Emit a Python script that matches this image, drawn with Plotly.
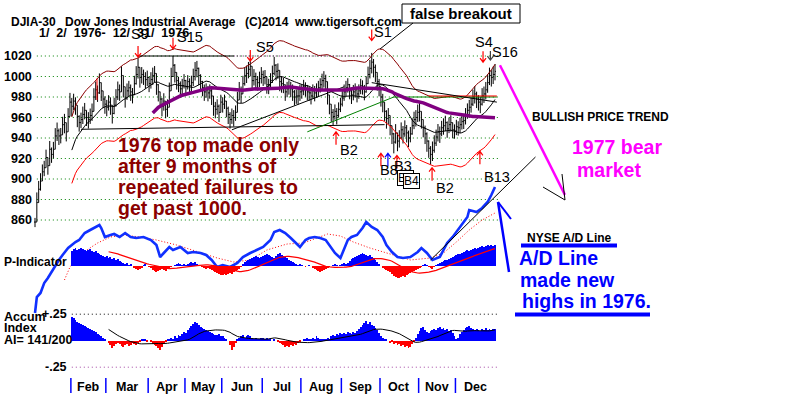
import plotly.graph_objects as go
import pandas as pd

W, H = 800, 397
FONT = "Liberation Sans, Arial, sans-serif"

# ---------------- data ----------------
month_names = ["Jan", "Feb", "Mar", "Apr", "May", "Jun", "Jul", "Aug", "Sep", "Oct", "Nov", "Dec"]
month_days = [20, 19, 23, 20, 20, 22, 21, 22, 21, 21, 20, 22]

close_by_month = [
    [858, 877, 890, 898, 907, 911, 921, 913, 929, 924, 929, 942, 947, 942, 943, 953, 955, 946, 961, 975],
    [971, 976, 972, 961, 955, 958, 963, 967, 960, 958, 962, 966, 980, 987, 984, 994, 986, 978, 973],
    [970, 975, 972, 964, 972, 980, 987, 985, 1001, 990, 979, 986, 989, 985, 982, 993, 1002, 1009, 999, 1002, 1000, 997, 999],
    [993, 997, 1001, 1003, 992, 985, 978, 971, 976, 968, 970, 986, 1000, 1011, 1004, 996, 993, 988, 991, 996],
    [990, 995, 991, 994, 1000, 1006, 1008, 1001, 995, 989, 985, 987, 984, 986, 981, 971, 968, 971, 965, 975],
    [973, 976, 969, 963, 958, 962, 960, 965, 977, 987, 983, 993, 1001, 1003, 1007, 1010, 996, 1000, 997, 994, 998, 1002],
    [999, 1000, 992, 991, 996, 1003, 1011, 1005, 1006, 995, 993, 992, 985, 988, 990, 988, 985, 980, 981, 981, 985],
    [986, 990, 988, 985, 984, 981, 986, 984, 987, 989, 992, 996, 998, 995, 982, 973, 965, 961, 966, 962, 968, 973],
    [979, 985, 989, 992, 986, 982, 985, 987, 983, 986, 991, 990, 985, 993, 1002, 1008, 1014, 1009, 1004, 995, 990],
    [980, 975, 966, 959, 962, 952, 944, 936, 945, 937, 940, 948, 944, 950, 945, 940, 944, 952, 958, 960, 965],
    [966, 958, 950, 944, 937, 930, 924, 928, 935, 941, 946, 944, 950, 952, 955, 949, 953, 955, 948, 947],
    [951, 950, 953, 956, 957, 962, 967, 970, 973, 980, 983, 978, 975, 973, 981, 983, 987, 994, 1001, 999, 1002, 1005],
]

range_by_month = [
    [9, 22, 18, 17, 16, 15, 17, 16, 18, 15, 16, 17, 18, 16, 15, 17, 19, 17, 18, 20],
    [18, 16, 17, 19, 16, 15, 17, 16, 15, 16, 15, 17, 19, 18, 16, 20, 18, 16, 17],
    [16, 15, 17, 18, 16, 17, 18, 16, 20, 19, 17, 16, 15, 16, 15, 17, 18, 20, 18, 16, 15, 16, 15],
    [15, 16, 17, 16, 18, 17, 16, 18, 17, 16, 17, 18, 19, 20, 18, 16, 15, 16, 15, 14],
    [15, 14, 16, 15, 17, 18, 16, 17, 16, 15, 16, 14, 15, 14, 16, 17, 16, 15, 17, 16],
    [15, 14, 16, 17, 16, 15, 16, 15, 18, 17, 16, 17, 18, 17, 16, 18, 17, 16, 15, 14, 15, 16],
    [15, 14, 16, 15, 16, 17, 18, 16, 15, 17, 16, 15, 16, 15, 14, 15, 16, 15, 14, 15, 16],
    [14, 15, 14, 15, 14, 15, 14, 15, 14, 15, 14, 15, 16, 15, 17, 18, 17, 16, 15, 16, 15, 14],
    [15, 16, 15, 14, 15, 16, 15, 14, 15, 14, 15, 14, 15, 16, 17, 18, 20, 18, 17, 16, 17],
    [17, 18, 17, 18, 16, 17, 18, 20, 19, 18, 17, 16, 17, 16, 17, 16, 15, 16, 17, 16, 17],
    [18, 16, 17, 18, 19, 17, 18, 19, 17, 16, 17, 16, 15, 16, 15, 16, 15, 16, 15, 14],
    [15, 14, 15, 14, 15, 16, 15, 16, 15, 16, 17, 16, 15, 16, 17, 16, 17, 18, 17, 16, 17, 16],
]

pind_by_month = [
    [None] * 20,
    [15, 17, 18, 16, 17, 18, 17, 16, 15, 16, 17, 15, 14, 15, 13, 12, 11, 10, 9],
    [10, 8, 9, 7, 8, 6, 7, 5, 4, 3, 2, 3, 1, 2, 0, -2, -3, -4, -3, -2, 1, 2, 0],
    [-1, -2, -4, -5, -6, -5, -4, -3, -4, -5, -3, -2, -1, 0, 1, 2, 3, 2, 1, 2],
    [1, 2, 3, 4, 3, 4, 2, 1, 0, -1, -2, -3, -2, -3, -4, -5, -6, -7, -8, -9],
    [-9, -8, -9, -8, -7, -8, -6, -5, -4, -3, -1, 2, 4, 5, 6, 7, 8, 9, 10, 9, 8, 9],
    [10, 11, 12, 11, 10, 9, 8, 10, 12, 13, 11, 10, 9, 8, 6, 5, 4, 3, 2, 1, 2],
    [1, 0, -1, 0, 1, 0, -2, -3, -4, -5, -6, -5, -4, -3, -2, -1, 0, 1, 2, 1, 0, 1],
    [2, 3, 2, 3, 5, 7, 8, 9, 10, 11, 12, 13, 12, 11, 10, 11, 9, 8, 6, 4, 2],
    [0, -2, -3, -4, -5, -6, -8, -10, -11, -12, -12, -11, -10, -11, -9, -8, -7, -6, -5, -4, -3],
    [-2, -1, 1, 2, 1, -1, -2, -3, -1, 1, 2, 3, 4, 5, 6, 6, 7, 8, 9, 10],
    [11, 12, 12, 13, 14, 15, 16, 15, 16, 17, 18, 17, 18, 19, 20, 19, 20, 21, 20, 21, 20, 21],
]

accum_by_month = [
    [None] * 20,
    [0.22, 0.21, 0.20, 0.18, 0.17, 0.16, 0.15, 0.14, 0.13, 0.12, 0.11, 0.10, 0.09, 0.08, 0.06, 0.05, 0.04, 0.03, 0.01],
    [0.0, -0.02, -0.04, -0.07, -0.05, -0.03, -0.02, -0.03, -0.05, -0.06, -0.04, -0.03, -0.05, -0.04, -0.02, -0.03, -0.04, -0.02, -0.01, 0.01, 0.02, 0.01, -0.01],
    [0.0, -0.01, -0.03, -0.04, -0.05, -0.07, -0.09, -0.06, -0.03, -0.01, 0.01, 0.02, 0.03, 0.02, 0.04, 0.03, 0.05, 0.04, 0.06, 0.08],
    [0.07, 0.10, 0.12, 0.14, 0.16, 0.18, 0.17, 0.15, 0.13, 0.12, 0.11, 0.10, 0.09, 0.08, 0.07, 0.06, 0.05, 0.05, 0.06, 0.04],
    [0.04, 0.03, 0.02, 0.0, -0.04, -0.09, -0.06, -0.02, 0.01, 0.03, 0.04, 0.05, 0.03, 0.04, 0.05, 0.04, 0.03, 0.02, 0.03, 0.01, 0.02, 0.03],
    [0.03, 0.02, 0.03, 0.02, 0.01, 0.0, 0.01, 0.0, -0.01, -0.02, -0.03, -0.04, -0.06, -0.05, -0.06, -0.04, -0.05, -0.03, -0.04, -0.02, -0.01],
    [0.0, 0.01, 0.02, 0.03, 0.01, 0.02, 0.03, 0.02, 0.04, 0.03, 0.02, 0.01, 0.02, 0.01, 0.03, 0.02, 0.04, 0.05, 0.04, 0.06, 0.05, 0.07],
    [0.06, 0.07, 0.06, 0.08, 0.07, 0.06, 0.08, 0.07, 0.09, 0.11, 0.13, 0.15, 0.17, 0.19, 0.16, 0.18, 0.15, 0.14, 0.12, 0.10, 0.07],
    [0.04, 0.03, 0.02, 0.01, 0.0, -0.02, -0.01, -0.03, -0.02, -0.04, -0.03, -0.05, -0.04, -0.06, -0.05, -0.07, -0.06, -0.03, -0.01, 0.03, 0.06],
    [0.09, 0.12, 0.13, 0.10, 0.08, 0.07, 0.09, 0.10, 0.11, 0.10, 0.12, 0.13, 0.11, 0.12, 0.10, 0.11, 0.09, 0.10, 0.07, 0.04],
    [0.01, 0.03, 0.06, 0.08, 0.10, 0.12, 0.13, 0.14, 0.12, 0.11, 0.10, 0.11, 0.10, 0.09, 0.11, 0.10, 0.12, 0.10, 0.11, 0.10, 0.11, 0.11],
]

# NYSE advance/decline line (arbitrary units) at trading-day numbers
ad_day = [0, 1, 3, 5, 7, 9, 11, 13, 15, 18, 20, 22, 24, 27, 30, 33, 35, 36, 38, 41, 43, 46, 49, 52, 55, 59, 63, 66, 68, 70,
          73, 75, 79, 83, 86, 90, 93, 96, 99, 102, 106, 110, 113, 117, 121, 124, 128, 130, 133, 136, 139, 141, 144, 147, 149, 152, 155, 158, 160, 163,
          166, 167, 170, 172, 175, 178, 180, 183, 186, 189, 191, 194, 197, 200, 204, 208, 210, 213, 216, 220, 224, 227, 231, 235, 236, 240, 243, 246, 248, 250]
ad_value = [7, 23, 27, 37, 42, 48, 55, 60, 65, 72, 75, 78, 80, 87, 90, 93, 95, 92, 83, 85, 86, 83, 87, 83, 82, 83, 80, 75, 63, 67,
            73, 70, 73, 67, 68, 67, 65, 60, 53, 55, 53, 57, 63, 67, 70, 73, 80, 88, 90, 87, 82, 78, 73, 80, 82, 83, 82, 80, 75, 67,
            62, 67, 80, 83, 85, 92, 98, 93, 90, 83, 75, 68, 63, 62, 63, 68, 72, 67, 60, 63, 77, 83, 93, 103, 110, 108, 112, 118, 125, 133]
adma_day = [16, 19, 24, 34, 41, 48, 57, 66, 77, 90, 99, 108, 117, 126, 137, 146, 155, 159, 166, 173, 182, 191, 204, 215, 222, 229, 236, 243, 250]
adma_value = [40, 53, 65, 77, 83, 85, 83, 80, 75, 67, 62, 58, 60, 70, 76, 77, 83, 86, 84, 78, 72, 67, 60, 62, 67, 78, 90, 100, 107]

price_ticks = [860, 880, 900, 920, 940, 960, 980, 1000, 1020]

# signals: (label, trading day, price at arrow tip, colour)
sell_signals = [("S9", 56, 1019, "#ff0000"), ("S15", 75, 1027, "#ff0000"), ("S5", 117, 1015, "#ff0000"),
                ("S1", 183, 1035, "#ff0000"), ("S4", 243.5, 1014, "#ff0000"), ("S16", 247.5, 1016, "#404040")]
buy_signals = [(163.6, 946, "#ff0000"), (188, 925, "#ff0000"), (191.8, 925, "#0000ff"), (196.7, 923, "#ff0000"),
               (215.8, 911, "#ff0000"), (241.8, 927, "#ff0000")]

# drawn trend lines on the price panel: (days, prices, colour, dash)
trend_lines = [
    ([56, 108], [1020, 1020], "#000000", "solid"),
    ([108, 182], [1020, 1020], "#600060", "1px,2px"),
    ([25, 190], [948.5, 953], "#000000", "solid"),
    ([107, 168], [948, 990], "#000000", "solid"),
    ([148, 195, 251], [946, 980, 980], "#008000", "solid"),
    ([214, 251], [981, 981], "#ff0000", "solid"),
    ([183, 251], [994, 975], "#000000", "solid"),
    ([33.7, 33.7], [998, 977], "#ff0000", "solid"),
]

# ---------------- derived series ----------------
close = sum(close_by_month, [])
rng = sum(range_by_month, [])
pind = sum(pind_by_month, [])
accum = sum(accum_by_month, [])
N = len(close)
days = list(range(N))

df = pd.DataFrame({"close": close, "rng": rng[:N]})
df["open"] = df["close"].shift(1).fillna(df["close"])
df["high"] = pd.concat([df["close"] + 0.45 * df["rng"], df["open"]], axis=1).max(axis=1)
df["low"] = pd.concat([df["close"] - 0.55 * df["rng"], df["open"]], axis=1).min(axis=1)
ma21 = df["close"].rolling(21).mean()
ma65 = df["close"].rolling(65).mean()
upper = ma21 * 1.035
lower = ma21 * 0.965
pser = pd.Series(pind, dtype="float")
aser = pd.Series(accum, dtype="float")
pma = pser.rolling(21).mean()
ama = aser.rolling(21).mean()

# pixel mapping helpers (axes are set so that day i sits at x = 35 + 1.84 i)
PXD = 1.84
X0, X1 = -35 / PXD, (W - 35) / PXD
DX = 1 / PXD
DY = 1 / 1.025


def px(x):
    return x / W


def py(y):
    return 1 - y / H


fig = go.Figure()

# price bars
fig.add_trace(go.Ohlc(x=days, open=df["open"], high=df["high"], low=df["low"], close=df["close"],
                      increasing=dict(line=dict(color="black", width=1)),
                      decreasing=dict(line=dict(color="black", width=1)),
                      tickwidth=0.5, hoverinfo="skip", yaxis="y"))
fig.add_trace(go.Scatter(x=days, y=upper, mode="lines", line=dict(color="#8b0000", width=1), hoverinfo="skip"))
fig.add_trace(go.Scatter(x=days, y=lower, mode="lines", line=dict(color="#ff0000", width=1), hoverinfo="skip"))
fig.add_trace(go.Scatter(x=days, y=ma21, mode="lines", line=dict(color="#000000", width=1), hoverinfo="skip"))
for xs, ys, col, dash in trend_lines:
    fig.add_trace(go.Scatter(x=xs, y=ys, mode="lines", line=dict(color=col, width=1, dash=dash), hoverinfo="skip"))
fig.add_trace(go.Scatter(x=days, y=ma65, mode="lines", line=dict(color="#800080", width=3.5), hoverinfo="skip"))

# P-Indicator histogram
pcol = ["#0000ff" if (v is not None and v >= 0) else "#ff0000" for v in pind]
fig.add_trace(go.Bar(x=days, y=pind, yaxis="y3", width=0.5, marker=dict(color=pcol, line=dict(width=0)), hoverinfo="skip"))
fig.add_trace(go.Scatter(x=days, y=pma, yaxis="y3", mode="lines", line=dict(color="#ff0000", width=1.2), hoverinfo="skip"))

# A/D line
fig.add_trace(go.Scatter(x=adma_day, y=adma_value, yaxis="y2", mode="lines",
                         line=dict(color="#ff0000", width=1, dash="1px,2px"), hoverinfo="skip"))
fig.add_trace(go.Scatter(x=ad_day, y=ad_value, yaxis="y2", mode="lines",
                         line=dict(color="#1030ff", width=2.6), hoverinfo="skip"))
fig.add_trace(go.Scatter(x=[215, 272], y=[60, 163], yaxis="y2", mode="lines",
                         line=dict(color="#000000", width=1), hoverinfo="skip"))

# Accumulation index
acol = ["#0000ff" if (v is not None and v >= 0) else "#ff0000" for v in accum]
fig.add_trace(go.Bar(x=days, y=accum, yaxis="y4", width=0.5, marker=dict(color=acol, line=dict(width=0)), hoverinfo="skip"))
fig.add_trace(go.Scatter(x=days, y=ama, yaxis="y4", mode="lines", line=dict(color="#000000", width=1), hoverinfo="skip"))

# magenta forecast line
fig.add_trace(go.Scatter(x=[252.7, 288], y=[1011, 884.5], mode="lines", line=dict(color="#ff00ff", width=2.5), hoverinfo="skip"))

shapes = []
annotations = []

# price grid lines
for t in price_ticks:
    shapes.append(dict(type="line", xref="x", yref="y", x0=1, x1=252.5, y0=t, y1=t,
                       line=dict(color="#008000", width=1, dash="1px,3px"), layer="below"))
    annotations.append(dict(text=f"<b>{t}</b>", x=px(34), y=t, xref="paper", yref="y", xanchor="right",
                            yanchor="middle", showarrow=False, font=dict(family=FONT, size=12.5, color="black")))

# accum index reference lines
shapes.append(dict(type="line", xref="x", yref="y4", x0=20, x1=252.5, y0=0.25, y1=0.25,
                   line=dict(color="#000000", width=1, dash="1px,3px")))
shapes.append(dict(type="line", xref="x", yref="y4", x0=20, x1=252.5, y0=-0.25, y1=-0.25,
                   line=dict(color="#a040a0", width=1, dash="1px,3px")))
for lab, val in [("+.25", 0.25), ("-.25", -0.25)]:
    annotations.append(dict(text=f"<b>{lab}</b>", x=px(69), y=val, xref="paper", yref="y4", xanchor="right",
                            yanchor="middle", showarrow=False, font=dict(family=FONT, size=12.5, color="black")))

# month ticks and labels
start = 0
for k, (m, n) in enumerate(zip(month_names, month_days)):
    if k > 0:
        shapes.append(dict(type="line", xref="x", yref="paper", x0=start - 0.5, x1=start - 0.5,
                           y0=py(393), y1=py(378), line=dict(color="#0000ff", width=1.5)))
        annotations.append(dict(text=f"<b>{m}</b>", x=start + (n - 1) / 2, y=py(387), xref="x", yref="paper",
                                xanchor="center", yanchor="middle", showarrow=False,
                                font=dict(family=FONT, size=12.5, color="black")))
    start += n


def arrow(i, p, color, down=True, length=12):
    s = 1 if down else -1
    tail = p + s * length * DY
    head = p + s * 4 * DY
    path = f"M {i},{tail} L {i},{p} M {i - 3 * DX},{head} L {i},{p} L {i + 3 * DX},{head}"
    shapes.append(dict(type="path", xref="x", yref="y", path=path, line=dict(color=color, width=1.2)))


for lab, i, p, col in sell_signals:
    arrow(i, p, col, down=True, length=11 if lab != "S16" else 9)
for i, p, col in buy_signals:
    arrow(i, p, col, down=False, length=13)


def txt(s, x, y, size, color="black", bold=True, anchor="left", **kw):
    d = dict(text=(f"<b>{s}</b>" if bold else s), x=px(x), y=py(y), xref="paper", yref="paper",
             xanchor=anchor, yanchor="middle", showarrow=False,
             font=dict(family=FONT, size=size, color=color))
    d.update(kw)
    annotations.append(d)


# header
txt("DJIA-30", 9, 22, 12)
txt("Dow Jones Industrial Average", 63, 22, 12)
txt("(C)2014", 243, 22, 12)
txt("www.tigersoft.com", 292, 22, 12)
txt("1/  2/  1976-  12/  31/  1976", 37, 33, 12.5)

# signal labels
for s, x, y in [("S9", 140, 34), ("S15", 190, 37.5), ("S5", 265, 47), ("S1", 383, 32), ("S4", 484, 42), ("S16", 505, 52)]:
    txt(s, x, y, 14.5, bold=False, anchor="center")
for s, x, y in [("B2", 349, 150), ("B2", 445, 188), ("B13", 497, 177), ("B8", 389, 170), ("B3", 403, 166)]:
    txt(s, x, y, 14.5, bold=False, anchor="center")
for s, x, y in [("B7", 405, 178), ("B4", 411, 181)]:
    txt(s, x, y, 12, bold=False, anchor="center", bordercolor="black", borderwidth=1, borderpad=0, bgcolor="white")

# false breakout callout
shapes.append(dict(type="rect", xref="paper", yref="paper", x0=px(402), x1=px(520), y0=py(23), y1=py(4),
                   line=dict(color="black", width=1), fillcolor="white"))
txt("false breakout", 461, 14, 15, anchor="center")
shapes.append(dict(type="line", xref="paper", yref="paper", x0=px(413), y0=py(23), x1=px(380), y1=py(49),
                   line=dict(color="black", width=1)))

# commentary
DR = "#8b0000"
txt("1976 top made only", 116, 145, 19.5, DR)
txt("after 9 months of", 116, 166, 19.5, DR)
txt("repeated failures to", 116, 187, 19.5, DR)
txt("get past 1000.", 116, 208, 19.5, DR)

txt("BULLISH PRICE TREND", 530, 117, 12)
txt("1977 bear", 570, 147, 19.5, "#ff00ff")
txt("market", 575, 170, 19.5, "#ff00ff")
shapes.append(dict(type="line", xref="paper", yref="paper", x0=px(562), y0=py(174), x1=px(565), y1=py(200),
                   line=dict(color="black", width=1)))
shapes.append(dict(type="line", xref="paper", yref="paper", x0=px(543), y0=py(187), x1=px(565), y1=py(200),
                   line=dict(color="black", width=1)))

txt("NYSE A/D Line", 525, 238, 12)
shapes.append(dict(type="line", xref="paper", yref="paper", x0=px(521), y0=py(245.5), x1=px(617), y1=py(245.5),
                   line=dict(color="#0000ff", width=4)))
BL = "#0000ff"
txt("A/D Line", 517, 258, 19.5, BL)
txt("made new", 518, 280, 19.5, BL)
txt("highs in 1976.", 520, 301, 19.5, BL)
shapes.append(dict(type="line", xref="paper", yref="paper", x0=px(515), y0=py(314.5), x1=px(650), y1=py(314.5),
                   line=dict(color=BL, width=4)))
shapes.append(dict(type="line", xref="paper", yref="paper", x0=px(498), y0=py(202), x1=px(509), y1=py(272),
                   line=dict(color=BL, width=2.5)))
shapes.append(dict(type="line", xref="paper", yref="paper", x0=px(498), y0=py(202), x1=px(511), y1=py(219),
                   line=dict(color=BL, width=2)))

# panel labels
txt("P-Indicator", 2, 262, 12)
txt("Accum", 2, 317, 12.5)
txt("Index", 2, 328, 12.5)
txt("AI= 141/200", 2, 340, 12.5)

fig.update_layout(
    width=W, height=H, margin=dict(l=0, r=0, t=0, b=0),
    paper_bgcolor="white", plot_bgcolor="white", showlegend=False,
    barmode="overlay", bargap=0,
    xaxis=dict(range=[X0, X1], visible=False, fixedrange=True, rangeslider=dict(visible=False)),
    yaxis=dict(range=[687.32, 1074.63], visible=False, fixedrange=True),
    yaxis2=dict(range=[-77, 320], overlaying="y", visible=False, fixedrange=True),
    yaxis3=dict(range=[-131, 266], overlaying="y", visible=False, fixedrange=True),
    yaxis4=dict(range=[(340.7 - 397) / 106, 340.7 / 106], overlaying="y", visible=False, fixedrange=True),
    shapes=shapes, annotations=annotations,
)

fig.write_html("out.html", config={"displayModeBar": False},
               post_script="document.body.style.margin='0';document.body.style.overflow='hidden';")
